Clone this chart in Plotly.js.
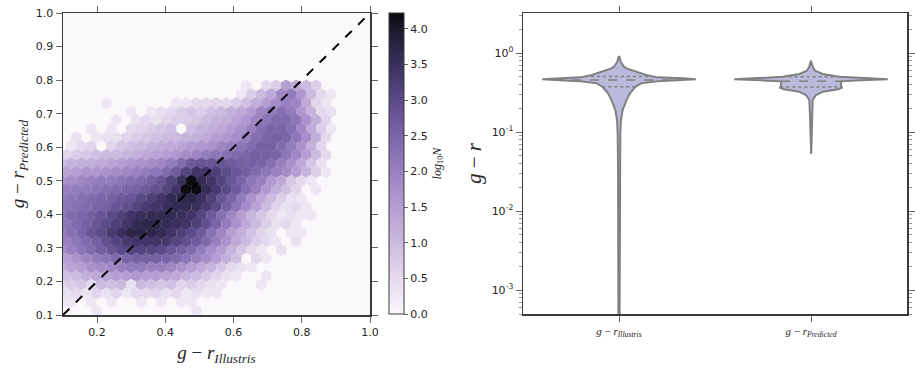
<!DOCTYPE html>
<html>
<head>
<meta charset="utf-8">
<script src="https://cdn.plot.ly/plotly-3.0.1.min.js"></script>
<style>
  html, body { margin: 0; padding: 0; background: #fff; }
  #chart { width: 915px; height: 371px; }
</style>
</head>
<body>
<div id="chart"></div>
<script>
// ---- hexbin (log10 N per cell), rows listed top to bottom ----
const hexRowY = [0.784, 0.758, 0.732, 0.706, 0.681, 0.655, 0.629, 0.603, 0.577, 0.552,
                 0.526, 0.500, 0.474, 0.448, 0.423, 0.397, 0.371, 0.345, 0.319, 0.294,
                 0.268, 0.242, 0.216, 0.190, 0.165, 0.139, 0.113];
// bin centres for unshifted rows and for the half-shifted rows
const hexColX = [0.095, 0.124, 0.154, 0.183, 0.212, 0.242, 0.271, 0.300, 0.329, 0.359,
                 0.388, 0.417, 0.447, 0.476, 0.505, 0.535, 0.564, 0.593, 0.622, 0.652,
                 0.681, 0.710, 0.740, 0.769, 0.798, 0.827, 0.857, 0.886, 0.915];
const hexColXShift = [0.110, 0.139, 0.168, 0.198, 0.227, 0.256, 0.286, 0.315, 0.344, 0.373,
                      0.403, 0.432, 0.461, 0.491, 0.520, 0.549, 0.579, 0.608, 0.637, 0.666,
                      0.696, 0.725, 0.754, 0.784, 0.813, 0.842, 0.871, 0.901, 0.930];
const hexLogN = [
  [0,0,0,0,0,0,0,0,0,0, 0,0,0,0,0,0,0,0,0.3,0, 0.5,0.7,1.5,1.3,1.0,0.7,0,0,0],
  [0,0,0,0,0,0,0,0,0,0, 0,0,0,0,0,0,0,0,0.3,0.7, 1.0,1.3,1.9,2.1,1.6,1.0,0.5,0.3,0],
  [0,0,0,0,0.3,0,0,0,0,0, 0,0.3,0.3,0.5,0.5,0.6,0.5,0.7,0.9,1.2, 1.5,1.8,2.0,1.9,1.3,0.6,0.3,0,0],
  [0,0,0,0,0,0,0,0.3,0,0.3, 0.4,0.5,0.7,0.8,0.7,0.9,1.0,1.2,1.3,1.5, 1.9,2.1,2.3,2.1,1.6,1.1,0.5,0.4,0],
  [0,0,0,0,0,0.3,0,0.4,0.5,0.4, 0.6,0.7,0.7,0.8,1.0,1.1,1.2,1.4,1.6,1.9, 2.2,2.4,2.4,2.2,1.7,1.2,0.6,0,0],
  [0,0,0,0.3,0,0.3,0,0.5,0.6,0.7, 0.8,0.9,0,0.9,1.1,1.2,1.3,1.5,1.7,2.0, 2.3,2.5,2.5,2.3,1.9,1.3,0.7,0.3,0],
  [0,0.4,0,0.3,0.4,0.4,0.6,0.7,0.8,0.9, 1.0,1.0,1.1,1.2,1.3,1.5,1.6,1.8,2.0,2.3, 2.5,2.6,2.5,2.2,1.8,1.2,0.5,0,0],
  [0,0.3,0.5,0.6,0,0.6,0.8,0.9,1.0,1.1, 1.2,1.3,1.4,1.5,1.6,1.7,1.9,2.0,2.2,2.4, 2.6,2.6,2.4,2.1,1.7,1.2,0.6,0,0],
  [0.6,0.7,0.8,0.9,1.0,1.0,1.1,1.2,1.3,1.4, 1.5,1.6,1.8,1.9,2.1,2.2,2.3,2.4,2.5,2.6, 2.6,2.5,2.2,1.9,1.5,1.0,0.5,0,0],
  [1.0,1.1,1.2,1.2,1.3,1.4,1.5,1.6,1.7,1.8, 1.9,2.1,2.4,2.7,2.8,2.8,2.8,2.7,2.6,2.6, 2.5,2.3,2.0,1.7,1.3,0.8,0.4,0,0],
  [1.4,1.5,1.6,1.6,1.7,1.8,1.9,2.0,2.1,2.2, 2.4,2.7,3.1,3.4,3.4,3.2,3.0,2.8,2.6,2.4, 2.2,2.0,1.8,1.5,1.1,0.7,0.3,0,0],
  [1.7,1.8,1.9,2.0,2.1,2.1,2.2,2.3,2.4,2.6, 2.8,3.1,3.5,4.2,3.6,3.4,3.1,2.8,2.5,2.2, 2.0,1.6,1.3,0.8,0.5,0.3,0,0,0],
  [2.0,2.1,2.1,2.2,2.3,2.4,2.5,2.6,2.7,2.9, 3.1,3.4,4.2,4.2,3.6,3.3,3.0,2.7,2.3,2.0, 1.6,1.2,0.9,0.6,0,0.3,0,0,0],
  [2.1,2.2,2.3,2.4,2.5,2.6,2.7,2.8,3.0,3.2, 3.4,3.6,3.7,3.7,3.5,3.2,2.8,2.5,2.1,1.7, 1.3,1.0,0.7,0.4,0.3,0,0,0,0],
  [2.2,2.3,2.4,2.5,2.6,2.8,2.9,3.1,3.3,3.4, 3.5,3.6,3.6,3.5,3.3,3.0,2.6,2.2,1.8,1.4, 1.0,0.6,0.4,0.5,0.3,0,0,0,0],
  [2.2,2.4,2.5,2.6,2.8,3.0,3.2,3.4,3.5,3.6, 3.6,3.6,3.5,3.4,3.1,2.7,2.3,1.9,1.5,1.1, 0.8,0.5,0.3,0.4,0.3,0.3,0,0,0],
  [2.2,2.4,2.6,2.8,3.0,3.2,3.4,3.6,3.7,3.7, 3.6,3.5,3.4,3.2,2.9,2.5,2.1,1.7,1.3,1.0, 0.7,0.4,0.5,0.3,0,0,0,0,0],
  [2.1,2.3,2.5,2.8,3.0,3.3,3.5,3.7,3.7,3.7, 3.6,3.4,3.2,3.0,2.7,2.3,1.9,1.5,1.2,0.9, 0.6,0.4,0,0.3,0.3,0,0,0,0],
  [2.0,2.2,2.4,2.6,2.9,3.1,3.3,3.4,3.4,3.4, 3.3,3.1,2.9,2.7,2.4,2.0,1.7,1.3,1.0,0.7, 0.5,0.3,0,0.4,0,0,0,0,0],
  [1.8,2.0,2.2,2.4,2.6,2.8,3.0,3.1,3.1,3.1, 3.0,2.8,2.6,2.4,2.1,1.8,1.5,1.1,0.8,0.5, 0.3,0,0.4,0,0,0,0,0,0],
  [1.5,1.7,1.9,2.1,2.2,2.4,2.5,2.6,2.6,2.6, 2.5,2.4,2.2,2.0,1.8,1.5,1.2,0.9,0,0.5, 0.3,0,0,0,0,0,0,0,0],
  [1.2,1.4,1.5,1.7,1.8,1.9,2.0,2.1,2.1,2.0, 2.0,1.9,1.7,1.5,1.3,1.1,0.8,0.5,0.4,0.3, 0,0,0,0,0,0,0,0,0],
  [0.9,1.0,1.2,1.3,1.4,1.5,1.5,1.6,1.5,1.5, 1.4,1.3,1.1,1.0,0.8,0.6,0.4,0.3,0,0, 0.3,0,0,0,0,0,0,0,0],
  [0.6,0.7,0.8,0.5,1.0,0.9,1.0,0.4,1.0,0.9, 0.8,0.9,0.6,0.7,0.5,0.4,0.3,0,0,0, 0.3,0,0,0,0,0,0,0,0],
  [0.4,0.5,0.3,0.6,0.4,0.6,0.3,0.5,0.5,0.6, 0.4,0.5,0.3,0.4,0.3,0.3,0,0,0,0, 0,0,0,0,0,0,0,0,0],
  [0.3,0.3,0,0.3,0,0.3,0,0,0.3,0, 0.3,0,0.3,0.3,0,0,0,0,0,0, 0,0,0,0,0,0,0,0,0],
  [0,0,0,0.3,0,0,0,0,0,0, 0,0,0,0.3,0,0,0,0,0,0, 0,0,0,0,0,0,0,0,0]
];
const oneToOne = [0.1, 1.0];

// ---- violins: density half-width (category units) at g-r levels ----
const violinNames = ["<i>g</i> − <i>r</i><sub><i>Illustris</i></sub>",
                     "<i>g</i> − <i>r</i><sub><i>Predicted</i></sub>"];
const illustrisLevels = [0.0005, 0.036, 0.096, 0.142, 0.190, 0.254, 0.309, 0.375, 0.413, 0.438,
                         0.451, 0.464, 0.478, 0.492, 0.527, 0.580, 0.640, 0.671, 0.776, 0.899];
const illustrisWidth  = [0.003, 0.005, 0.007, 0.010, 0.019, 0.039, 0.057, 0.087, 0.115, 0.20,
                         0.31, 0.40, 0.33, 0.20, 0.141, 0.087, 0.040, 0.026, 0.009, 0.002];
const predictedLevels = [0.053, 0.156, 0.254, 0.294, 0.324, 0.347, 0.364, 0.394, 0.438, 0.451,
                         0.464, 0.478, 0.500, 0.542, 0.597, 0.671, 0.800];
const predictedWidth  = [0.001, 0.005, 0.009, 0.026, 0.062, 0.141, 0.161, 0.156, 0.156, 0.26,
                         0.40, 0.30, 0.148, 0.061, 0.021, 0.009, 0.001];
const illustrisQuartiles = [0.375, 0.455, 0.505];
const predictedQuartiles = [0.371, 0.438, 0.500];

// ---- styling ----
const W = 915, H = 371;
const tickFont = { family: "DejaVu Sans, sans-serif", size: 11, color: "#262626" };
const mathFont = { family: "Liberation Serif, serif", size: 19, color: "#262626" };
const frameColor = "#3a3a3a";
const tickColor = "#666";
const violinLine = "#808080";
const violinFill = "#babadc";

const hexScale = [
  [0.00, "#fbf8fc"], [0.07, "#eee6f3"], [0.14, "#e1d5eb"], [0.24, "#cbb9df"],
  [0.36, "#b49dd2"], [0.47, "#9a82c1"], [0.59, "#7c66a9"], [0.71, "#5b4a88"],
  [0.83, "#3a305e"], [0.95, "#1b1629"], [1.00, "#0b090f"]
];

// flatten hex grid into marker positions
const hexX = [], hexY = [], hexC = [];
hexLogN.forEach((row, r) => {
  const cols = r % 2 === 0 ? hexColXShift : hexColX;
  row.forEach((v, k) => {
    if (v > 0) {
      hexX.push(cols[k]);
      hexY.push(hexRowY[r]);
      hexC.push(v);
    }
  });
});

const traces = [];

traces.push({
  type: "scatter",
  mode: "markers",
  x: hexX,
  y: hexY,
  xaxis: "x",
  yaxis: "y",
  hoverinfo: "skip",
  marker: {
    symbol: "hexagon",
    size: 11.9,
    color: hexC,
    cmin: 0,
    cmax: 4.22,
    colorscale: hexScale,
    line: { width: 0 },
    showscale: true,
    colorbar: {
      x: 389 / W, xanchor: "left", xpad: 0,
      y: 1 - 13 / H, yanchor: "top", ypad: 0,
      len: 301 / H, lenmode: "fraction",
      thickness: 15, thicknessmode: "pixels",
      outlinewidth: 1, outlinecolor: frameColor,
      ticks: "outside", ticklen: 4, tickcolor: tickColor,
      tick0: 0, dtick: 0.5, tickformat: ".1f",
      tickfont: tickFont,
      title: {
        text: "<i>log</i><sub>10</sub><i>N</i>",
        side: "right",
        font: { family: "Liberation Serif, serif", size: 12, color: "#262626" }
      }
    }
  }
});

traces.push({
  type: "scatter",
  mode: "lines",
  x: oneToOne,
  y: oneToOne,
  xaxis: "x",
  yaxis: "y",
  hoverinfo: "skip",
  line: { color: "#000", width: 2, dash: "dash" }
});

// interpolate half-width at a level (in log space)
function widthAt(levels, widths, v) {
  const lv = Math.log10(v);
  for (let i = 0; i < levels.length - 1; i++) {
    const a = Math.log10(levels[i]), b = Math.log10(levels[i + 1]);
    if (lv >= a && lv <= b) {
      const t = (lv - a) / (b - a);
      return widths[i] + t * (widths[i + 1] - widths[i]);
    }
  }
  return 0;
}

const violins = [
  { levels: illustrisLevels, widths: illustrisWidth, quart: illustrisQuartiles },
  { levels: predictedLevels, widths: predictedWidth, quart: predictedQuartiles }
];

violins.forEach((v, c) => {
  const xs = [], ys = [];
  v.levels.forEach((lv, i) => { xs.push(c + v.widths[i]); ys.push(lv); });
  for (let i = v.levels.length - 1; i >= 0; i--) { xs.push(c - v.widths[i]); ys.push(v.levels[i]); }
  xs.push(xs[0]); ys.push(ys[0]);
  traces.push({
    type: "scatter",
    mode: "lines",
    x: xs,
    y: ys,
    xaxis: "x2",
    yaxis: "y2",
    fill: "toself",
    fillcolor: violinFill,
    hoverinfo: "skip",
    line: { color: violinLine, width: 2 }
  });
  v.quart.forEach((q, qi) => {
    const hw = widthAt(v.levels, v.widths, q);
    traces.push({
      type: "scatter",
      mode: "lines",
      x: [c - hw, c + hw],
      y: [q, q],
      xaxis: "x2",
      yaxis: "y2",
      hoverinfo: "skip",
      line: { color: violinLine, width: 1.5, dash: qi === 1 ? "dash" : "dot" }
    });
  });
});

// minor ticks for the log axis
const minorVals = [];
for (let e = -4; e <= 0; e++) {
  for (let m = 2; m <= 9; m++) minorVals.push(m * Math.pow(10, e));
}

const frame = {
  showline: true, linecolor: frameColor, linewidth: 1.5, mirror: "allticks",
  ticks: "outside", ticklen: 6, tickwidth: 1, tickcolor: tickColor,
  showgrid: false, zeroline: false, tickfont: tickFont
};

const layout = {
  width: W,
  height: H,
  margin: { l: 0, r: 0, t: 0, b: 0 },
  paper_bgcolor: "#fff",
  plot_bgcolor: "rgba(0,0,0,0)",
  showlegend: false,
  xaxis: Object.assign({}, frame, {
    domain: [63 / W, 370 / W],
    anchor: "y",
    range: [0.1, 1.0],
    tickvals: [0.2, 0.4, 0.6, 0.8, 1.0],
    tickformat: ".1f",
    title: { text: violinNames[0], font: mathFont, standoff: 8 }
  }),
  yaxis: Object.assign({}, frame, {
    domain: [1 - 315 / H, 1 - 13 / H],
    anchor: "x",
    range: [0.1, 1.0],
    tick0: 0.1,
    dtick: 0.1,
    tickformat: ".1f",
    title: { text: violinNames[1], font: mathFont, standoff: 6 }
  }),
  xaxis2: Object.assign({}, frame, {
    domain: [523 / W, 907 / W],
    anchor: "y2",
    range: [-0.5, 1.5],
    tickvals: [0, 1],
    ticktext: violinNames,
    tickfont: { family: "Liberation Serif, serif", size: 11, color: "#262626" }
  }),
  yaxis2: Object.assign({}, frame, {
    domain: [1 - 314 / H, 1 - 13 / H],
    anchor: "x2",
    type: "log",
    range: [Math.log10(5e-4), 0.506],
    tickvals: [0.001, 0.01, 0.1, 1],
    ticktext: ["10<sup>-3</sup>", "10<sup>-2</sup>", "10<sup>-1</sup>", "10<sup>0</sup>"],
    minor: { tickmode: "array", tickvals: minorVals, ticks: "outside", ticklen: 3, tickcolor: "#999" },
    title: { text: "<i>g</i> − <i>r</i>", font: { family: "Liberation Serif, serif", size: 21, color: "#262626" }, standoff: 4 }
  }),
  shapes: [{
    type: "rect", xref: "x domain", yref: "y domain",
    x0: 0, x1: 1, y0: 0, y1: 1,
    fillcolor: "#fbf8fc", line: { width: 0 }, layer: "below"
  }]
};

Plotly.newPlot("chart", traces, layout, { displayModeBar: false, staticPlot: true });
</script>
</body>
</html>
